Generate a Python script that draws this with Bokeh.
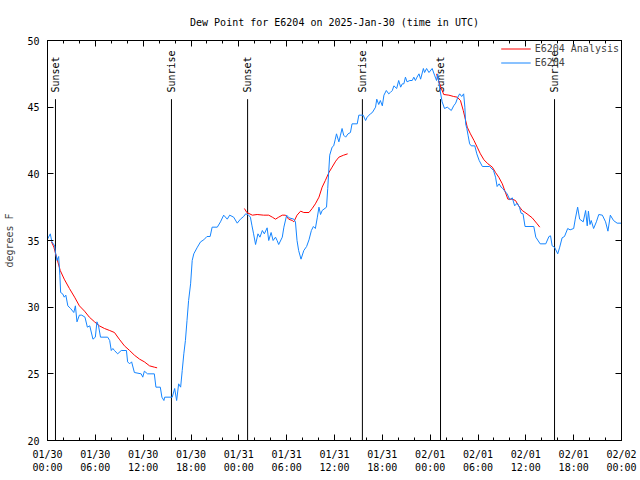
import math
from bokeh.plotting import figure
from bokeh.models import Range1d, FixedTicker, LinearAxis, Legend, LegendItem, ColumnDataSource
from bokeh.core.properties import value
from bokeh.embed import file_html
from bokeh.resources import INLINE

# ---- data (hours since 2025-01-30 00:00 UTC) ----
obs_hours = [0.0, 0.35, 0.55, 0.9, 1.0, 1.2, 1.4, 1.55, 1.65, 1.9, 2.1, 2.3, 2.55, 2.9, 3.3, 3.5, 3.7, 4.0, 4.3, 4.7,
             5.0, 5.3, 5.7, 6.0, 6.2, 6.4, 6.65, 7.55, 7.8, 8.0, 8.2, 8.4, 8.8, 9.25, 9.9, 10.05, 10.3, 10.55, 10.9, 11.75,
             11.95, 12.15, 12.55, 13.4, 13.6, 14.15, 14.35, 14.6, 14.7, 15.65, 15.95, 16.2, 16.45, 16.7, 16.9, 17.1, 17.3, 17.5, 17.7, 17.95,
             18.15, 18.35, 18.8, 19.2, 19.6, 20.0, 20.4, 20.65, 21.3, 21.7, 22.1, 22.55, 22.85, 23.35, 23.8, 24.2, 24.6, 24.85, 25.15, 25.45,
             25.65, 25.85, 26.1, 26.4, 26.65, 26.95, 27.2, 27.55, 27.75, 28.05, 28.3, 28.6, 28.8, 29.0, 29.45, 29.65, 30.0, 30.3, 30.9, 31.1,
             31.3, 31.5, 31.8, 32.15, 32.5, 32.8, 33.1, 33.35, 33.6, 33.85, 34.05, 34.25, 34.45, 35.0, 35.15, 35.4, 35.7, 35.9, 36.1, 36.25,
             36.55, 36.75, 36.95, 37.15, 37.4, 37.7, 38.0, 38.2, 38.85, 39.05, 39.6, 39.9, 40.1, 40.5, 40.75, 41.15, 41.3, 41.55, 41.75, 42.0,
             42.2, 42.5, 42.8, 43.0, 43.25, 43.45, 43.8, 44.05, 44.3, 44.5, 44.7, 44.9, 45.1, 45.45, 45.75, 45.95, 46.15, 46.35, 46.6, 46.8,
             47.15, 47.3, 47.55, 47.85, 48.25, 48.55, 48.8, 48.95, 49.2, 49.5, 49.8, 50.15, 50.65, 50.95, 51.2, 51.47, 51.7, 51.95, 52.2, 52.35,
             52.45, 52.6, 52.75, 52.95, 53.15, 53.6, 53.85, 54.15, 54.55, 55.45, 55.95, 56.2, 56.4, 56.65, 56.9, 57.1, 57.3, 57.65, 58.0, 58.3,
             58.6, 58.9, 59.2, 59.4, 59.65, 59.9, 61.0, 61.25, 61.8, 62.5, 62.9, 63.1, 63.3, 63.6, 64.0, 64.25, 64.55, 64.85, 65.25, 65.55,
             66.0, 66.2, 66.5, 66.75, 67.2, 67.5, 67.7, 67.85, 68.05, 68.2, 68.5, 68.85, 69.15, 69.6, 70.0, 70.3, 70.6, 71.0, 71.45, 72.0]
obs_values = [35.1, 35.5, 34.9, 34.6, 34.1, 33.5, 33.8, 32.4, 31.1, 31.0, 30.75, 30.9, 30.1, 29.9, 29.6, 30.1, 28.9, 29.4, 29.4, 29.25,
              28.5, 28.6, 27.6, 27.75, 28.9, 28.6, 27.75, 27.75, 27.5, 26.75, 26.9, 26.75, 26.5, 26.75, 26.75, 25.9, 25.75, 25.9, 25.1, 25.0,
              24.75, 25.2, 25.0, 25.0, 24.0, 24.0, 23.25, 23.0, 23.25, 23.25, 23.9, 23.0, 24.25, 24.0, 25.25, 26.5, 27.5, 29.0, 30.5, 31.75,
              33.5, 34.0, 34.5, 34.9, 35.05, 35.3, 35.3, 36.0, 36.0, 36.4, 36.9, 36.6, 36.9, 36.75, 36.3, 36.6, 36.8, 37.0, 36.95, 36.75,
              36.1, 35.5, 34.7, 35.5, 35.25, 35.75, 35.5, 35.95, 35.0, 35.6, 35.0, 35.25, 35.0, 34.7, 35.25, 36.0, 36.9, 36.7, 36.6, 36.4,
              35.0, 34.25, 33.6, 34.25, 34.55, 35.05, 35.75, 36.05, 35.9, 36.75, 37.5, 36.95, 37.25, 37.5, 38.9, 41.4, 42.0, 42.1, 42.6, 43.0,
              42.4, 42.9, 43.4, 42.9, 42.75, 43.0, 43.1, 43.75, 43.75, 44.4, 44.4, 44.0, 44.25, 44.5, 44.6, 45.0, 45.6, 45.2, 45.5, 45.1,
              45.9, 46.25, 46.0, 46.1, 46.25, 46.6, 46.4, 47.0, 46.5, 46.75, 46.75, 47.25, 46.9, 47.0, 47.0, 47.25, 47.0, 47.25, 47.5, 47.1,
              47.9, 47.6, 47.9, 47.6, 47.9, 47.4, 47.0, 47.5, 46.4, 45.4, 44.9, 45.0, 44.75, 45.1, 45.3, 45.75, 46.0, 45.8, 46.0, 45.0,
              43.75, 43.4, 42.9, 42.25, 42.1, 42.1, 41.5, 41.0, 40.55, 40.55, 40.25, 39.75, 39.05, 39.25, 39.0, 38.9, 38.75, 38.5, 38.05, 38.2,
              37.6, 37.8, 37.5, 37.05, 37.0, 36.05, 36.05, 35.25, 34.75, 34.75, 35.3, 35.35, 34.6, 34.5, 34.0, 34.5, 35.2, 35.3, 35.9, 35.8,
              35.9, 36.6, 37.5, 36.6, 36.4, 37.25, 36.1, 37.2, 36.2, 36.5, 35.9, 36.4, 36.95, 36.9, 36.4, 35.7, 36.9, 36.5, 36.3, 36.3]

ana_hours = [0.5, 0.8, 1.2, 1.6, 2.1, 2.75, 3.4, 4.0, 4.65, 5.25, 5.9, 6.5, 7.15, 7.8, 8.4, 9.0, 9.65, 10.3, 10.9, 11.55,
             12.15, 12.8, 13.4, 13.75, float("nan"),
             24.7, 25.0, 25.7, 26.3, 27.1, 27.75, 28.2, 28.6, 29.0, 29.45, 29.85, 30.25, 30.7, 30.9, 31.3, 31.75, 32.15, 32.8, 33.2, 33.6,
             34.05, 34.45, 34.85, 35.3, 35.7, 36.15, 36.55, 37.15, 37.65, float("nan"),
             48.8, 49.05, 49.4, 49.7, 50.35, 50.95, 51.4, 51.8, 52.15, 52.45, 52.65, 53.05, 53.5, 53.9, 54.3, 54.75, 55.25, 55.8, 56.2, 56.6,
             57.05, 57.35, 57.75, 58.3, 58.7, 59.1, 59.55, 60.15, 60.8, 61.35, 61.75]
ana_values = [34.9, 34.5, 33.6, 32.75, 32.1, 31.4, 30.75, 30.1, 29.7, 29.25, 28.9, 28.6, 28.4, 28.25, 28.1, 27.6, 27.1, 26.75, 26.4, 26.1,
              25.9, 25.6, 25.5, 25.45, float("nan"),
              37.4, 37.1, 36.9, 36.95, 36.9, 36.9, 36.75, 36.6, 36.75, 36.9, 36.9, 36.6, 36.5, 36.4, 36.9, 37.2, 37.1, 37.1, 37.4, 37.75,
              38.25, 39.0, 39.5, 40.1, 40.5, 40.95, 41.25, 41.4, 41.5, float("nan"),
              47.5, 47.0, 46.4, 45.95, 45.9, 45.8, 45.75, 45.5, 44.75, 44.0, 43.5, 43.0, 42.5, 42.0, 41.5, 41.05, 40.75, 40.5, 40.1, 39.75,
              39.25, 38.75, 38.1, 38.1, 38.0, 37.6, 37.25, 37.0, 36.7, 36.3, 36.0]

sun_hours = [1.0, 15.55, 25.1, 39.5, 49.3, 63.6]
sun_labels = ["Sunset", "Sunrise", "Sunset", "Sunrise", "Sunset", "Sunrise"]

tick_hours = [0, 6, 12, 18, 24, 30, 36, 42, 48, 54, 60, 66, 72]
tick_labels = ["01/30\n00:00", "01/30\n06:00", "01/30\n12:00", "01/30\n18:00", "01/31\n00:00", "01/31\n06:00",
               "01/31\n12:00", "01/31\n18:00", "02/01\n00:00", "02/01\n06:00", "02/01\n12:00", "02/01\n18:00", "02/02\n00:00"]
y_ticks = [20, 25, 30, 35, 40, 45, 50]

FONT = "DejaVu Sans Mono"
FS = "10px"
BLUE = "#1585ff"
RED = "#ff0000"

p = figure(width=640, height=480, output_backend="svg", toolbar_location=None,
           x_range=Range1d(0, 72), y_range=Range1d(20, 50),
           min_border_left=47, min_border_right=19, min_border_top=40, min_border_bottom=40,
           title="Dew Point for E6204 on 2025-Jan-30 (time in UTC)")
p.title.align = "center"
p.title.text_font = FONT
p.title.text_font_size = FS
p.title.text_font_style = "normal"
p.title.text_color = "black"
p.title.standoff = 26
p.xgrid.visible = False
p.ygrid.visible = False
p.outline_line_color = "black"
p.outline_line_alpha = 1.0
p.background_fill_color = "white"
p.border_fill_color = "white"

minor = [h for h in range(0, 73, 2)]
xt = FixedTicker(ticks=tick_hours, minor_ticks=minor)
yt = FixedTicker(ticks=y_ticks, minor_ticks=[])

def style_axis(ax, show_labels):
    ax.axis_line_color = "black"
    ax.major_tick_line_color = "black"
    ax.minor_tick_line_color = "black"
    ax.major_tick_in = 6
    ax.major_tick_out = 0
    ax.minor_tick_in = 3
    ax.minor_tick_out = 0
    ax.major_label_text_font = FONT
    ax.major_label_text_font_size = FS
    if show_labels:
        ax.major_label_text_color = "black"
    else:
        ax.major_label_text_color = None
        ax.major_label_standoff = 0

xa = p.xaxis[0]
xa.ticker = xt
xa.major_label_overrides = {h: lab for h, lab in zip(tick_hours, tick_labels)}
style_axis(xa, True)
xa.major_label_standoff = 8

ya = p.yaxis[0]
ya.ticker = yt
style_axis(ya, True)
ya.major_label_standoff = 8
ya.axis_label = "degrees F"
ya.axis_label_text_font = FONT
ya.axis_label_text_font_size = FS
ya.axis_label_text_font_style = "normal"
ya.axis_label_standoff = 9

top = LinearAxis(ticker=xt)
style_axis(top, False)
p.add_layout(top, "above")
right = LinearAxis(ticker=yt)
style_axis(right, False)
p.add_layout(right, "right")

# sunrise / sunset markers
sun_src = ColumnDataSource(dict(x=sun_hours, lab=sun_labels,
                                y0=[20] * len(sun_hours), y1=[45.6] * len(sun_hours),
                                yt=[46.1] * len(sun_hours)))
p.segment(x0="x", y0="y0", x1="x", y1="y1", source=sun_src, line_color="black", line_width=1)
p.text(x="x", y="yt", text="lab", source=sun_src, angle=math.pi / 2, text_align="left",
       text_baseline="middle", text_font=value(FONT), text_font_size=FS, text_color="black")

r_ana = p.line(ana_hours, ana_values, line_color=RED, line_width=1)
r_obs = p.line(obs_hours, obs_values, line_color=BLUE, line_width=1)

legend = Legend(items=[LegendItem(label="E6204 Analysis", renderers=[r_ana]),
                       LegendItem(label="E6204", renderers=[r_obs])],
                location="top_right")
legend.label_text_font = FONT
legend.label_text_font_size = FS
legend.background_fill_alpha = 0
legend.border_line_alpha = 0
legend.spacing = 1
legend.padding = 0
legend.margin = 2
legend.glyph_width = 30
legend.glyph_height = 13
legend.label_height = 13
legend.label_standoff = 4
p.add_layout(legend)

open("out.html", "w").write(file_html(p, INLINE))
